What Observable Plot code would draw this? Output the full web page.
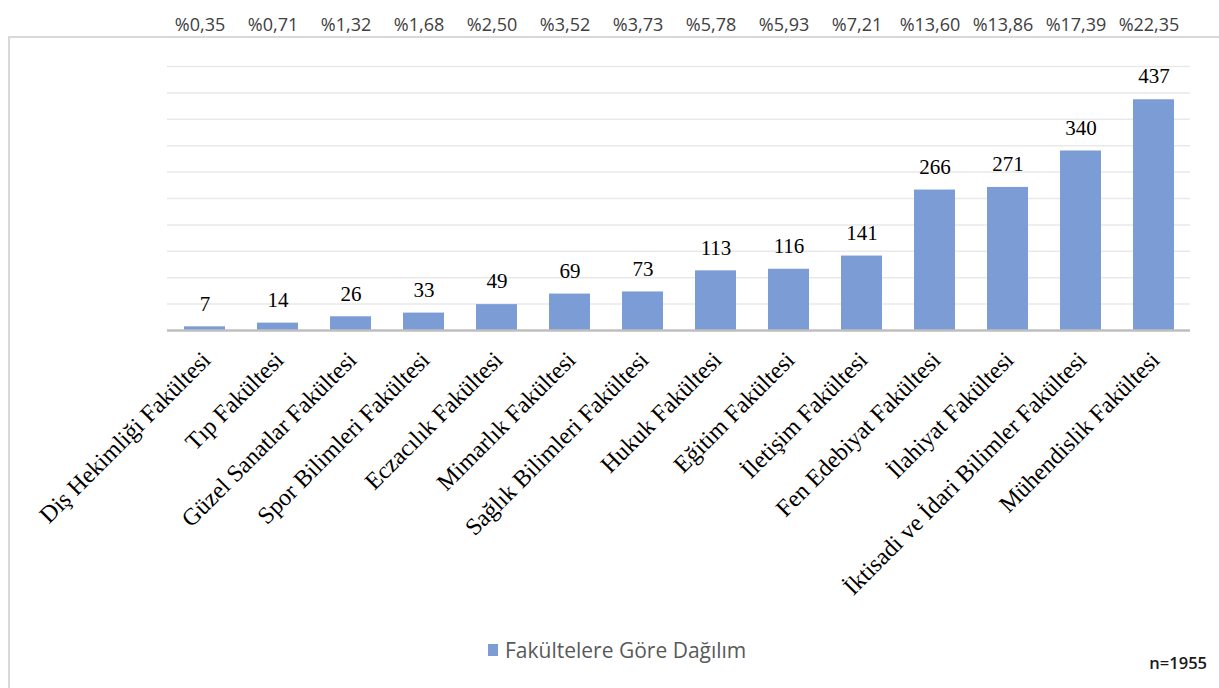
<!DOCTYPE html>
<html>
<head>
<meta charset="utf-8">
<script src="https://cdn.jsdelivr.net/npm/d3@7"></script>
<script src="https://cdn.jsdelivr.net/npm/@observablehq/plot@0.6"></script>
<style>
  body { margin: 0; background: #fff; overflow: hidden; }
  #wrap { position: relative; width: 1219px; height: 688px; overflow: hidden; background: #fff; }
  #frame { position: absolute; left: 8px; top: 36px; width: 1300px; height: 800px; border: 2px solid #d9d9d9; box-sizing: border-box; }
  #chart { position: absolute; left: 0; top: 0; }
  #legend { position: absolute; left: 488px; top: 636px; display: flex; align-items: center; font-family: "Open Sans", sans-serif; font-size: 21px; color: #595959; }
  #legend .sw { width: 10px; height: 12px; background: #7c9cd6; margin-right: 7px; }
  #nlabel { position: absolute; right: 12px; top: 651px; font-family: "Open Sans", sans-serif; font-size: 16.5px; color: #1a1a1a; font-weight: 600; }
</style>
</head>
<body>
<div id="wrap">
  <div id="frame"></div>
  <div id="chart"></div>
  <div id="legend"><div class="sw"></div><span>Fakültelere Göre Dağılım</span></div>
  <div id="nlabel">n=1955</div>
</div>
<script>
const categories = [
  "Diş Hekimliği Fakültesi",
  "Tıp Fakültesi",
  "Güzel Sanatlar Fakültesi",
  "Spor Bilimleri Fakültesi",
  "Eczacılık Fakültesi",
  "Mimarlık Fakültesi",
  "Sağlık Bilimleri Fakültesi",
  "Hukuk Fakültesi",
  "Eğitim Fakültesi",
  "İletişim Fakültesi",
  "Fen Edebiyat Fakültesi",
  "İlahiyat Fakültesi",
  "İktisadi ve İdari Bilimler Fakültesi",
  "Mühendislik Fakültesi"
];
const counts = [7, 14, 26, 33, 49, 69, 73, 113, 116, 141, 266, 271, 340, 437];
const percents = ["%0,35", "%0,71", "%1,32", "%1,68", "%2,50", "%3,52", "%3,73", "%5,78", "%5,93", "%7,21", "%13,60", "%13,86", "%17,39", "%22,35"];
const yTicks = [0, 50, 100, 150, 200, 250, 300, 350, 400, 450, 500];

const data = categories.map((c, i) => ({cat: c, n: counts[i], pct: percents[i]}));

const chart = Plot.plot({
  width: 1219,
  height: 620,
  marginLeft: 167,
  marginRight: 29,
  marginTop: 66,
  marginBottom: 290,
  style: {background: "transparent", overflow: "visible"},
  x: {domain: categories, paddingInner: 0.44, paddingOuter: 0.22, axis: null},
  y: {domain: [0, 500], axis: null},
  marks: [
    Plot.gridY(yTicks, {stroke: "#e9e9e9", strokeOpacity: 1, strokeWidth: 1.5}),
    Plot.barY(data, {x: "cat", y: "n", fill: "#7c9cd6"}),
    Plot.ruleY([0], {stroke: "#bfbfbf", strokeWidth: 2.5}),
    Plot.text(data, {x: "cat", y: "n", text: d => String(d.n), dy: -23, fontFamily: "Liberation Serif", fontSize: 21, fill: "#000"}),
    Plot.text(data, {x: "cat", text: "cat", frameAnchor: "bottom", dx: 7, dy: 31, rotate: -45, textAnchor: "end", fontFamily: "Liberation Serif", fontSize: 24, fill: "#000"}),
    Plot.text(data, {x: "cat", text: "pct", frameAnchor: "top", dx: -5, dy: -48, fontFamily: "Open Sans", fontSize: 18, fill: "#404040"})
  ]
});
document.getElementById("chart").appendChild(chart);
</script>
</body>
</html>
